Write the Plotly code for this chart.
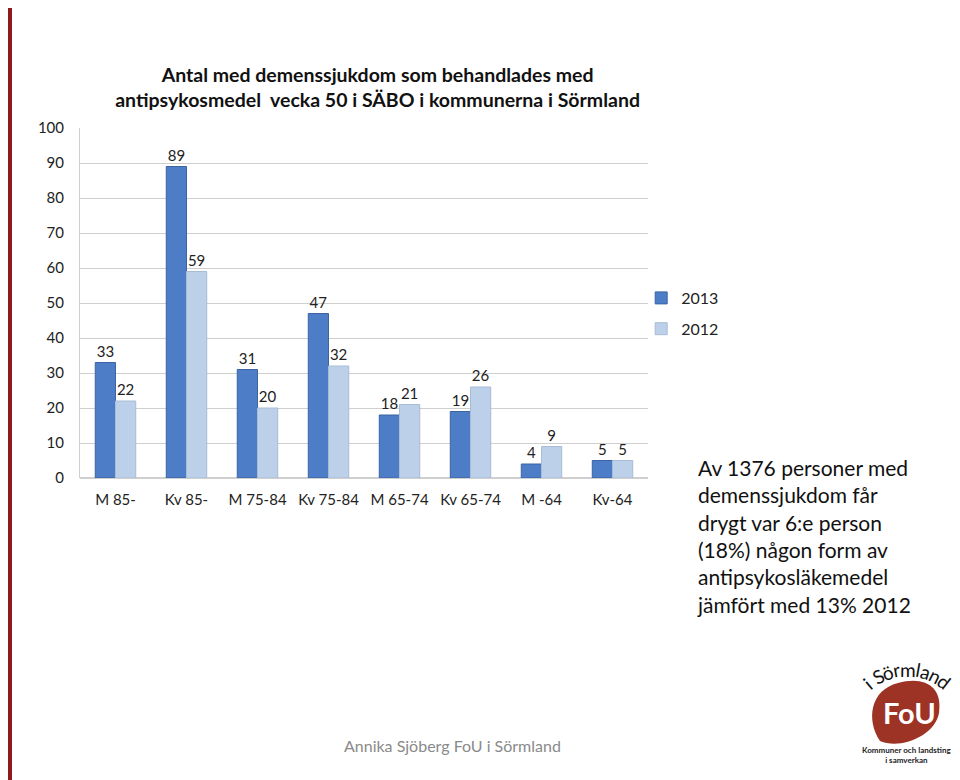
import math
import plotly.graph_objects as go

categories = ["M 85-", "Kv 85-", "M 75-84", "Kv 75-84", "M 65-74", "Kv 65-74", "M -64", "Kv-64"]
values_2013 = [33, 89, 31, 47, 18, 19, 4, 5]
values_2012 = [22, 59, 20, 32, 21, 26, 9, 5]
y_ticks = [0, 10, 20, 30, 40, 50, 60, 70, 80, 90, 100]

FONT = "Lato"

fig = go.Figure()
fig.add_trace(go.Bar(
    x=categories, y=values_2013, name="2013", legendgroup="a",
    marker=dict(color="#4C7DC6", line=dict(color="#3A64A3", width=1)),
    text=[str(v) for v in values_2013], textposition="outside",
    textfont=dict(family=FONT, size=15, color="#222"), cliponaxis=False,
))
fig.add_trace(go.Bar(
    x=categories, y=values_2012, name="2012", legendgroup="b",
    marker=dict(color="#BCD0EA", line=dict(color="#A9BCD6", width=1)),
    text=[str(v) for v in values_2012], textposition="outside",
    textfont=dict(family=FONT, size=15, color="#222"), cliponaxis=False,
))

fig.update_layout(
    width=960, height=780,
    margin=dict(l=72, r=320, t=120, b=310),
    paper_bgcolor="white", plot_bgcolor="white",
    barmode="group", bargap=0.43, bargroupgap=0,
    font=dict(family=FONT, color="#222"),
    showlegend=True,
    legend=dict(x=0.988, y=0.47, xanchor="left", yanchor="middle",
                font=dict(family=FONT, size=16, color="#222"),
                itemwidth=30, tracegroupgap=7, bgcolor="rgba(0,0,0,0)"),
    title=dict(text="<b>Antal med demenssjukdom som behandlades med<br>antipsykosmedel  vecka 50 i SÄBO i kommunerna i Sörmland</b>",
               x=0.385, xanchor="center", y=0.905, yanchor="middle",
               font=dict(family=FONT, size=19.5, color="#111")),
)
fig.update_xaxes(showgrid=False, showline=False, ticks="", ticklabelstandoff=11,
                 tickfont=dict(family=FONT, size=15, color="#222"))
fig.update_yaxes(range=[0, 100], tickvals=y_ticks, showgrid=True, gridcolor="#CFCFCF",
                 gridwidth=1, zeroline=True, zerolinecolor="#CFCFCF", showline=True,
                 linecolor="#CFCFCF", ticks="", ticklabelstandoff=12,
                 tickfont=dict(family=FONT, size=15, color="#222"))


def px(x):
    return (x - 80) / 568


def py(y):
    return (478 - y) / 350


# red left border of the slide
fig.add_shape(type="rect", xref="paper", yref="paper", x0=px(8), x1=px(12), y0=py(790), y1=py(0),
              fillcolor="#8E1B1B", line_width=0, layer="below")

# right text block
fig.add_annotation(xref="paper", yref="paper", x=px(695), y=py(453), xanchor="left", yanchor="top",
                   align="left", showarrow=False,
                   text="Av 1376 personer med<br>demenssjukdom får<br>drygt var 6:e person<br>(18%) någon form av<br>antipsykosläkemedel<br>jämfört med 13% 2012",
                   font=dict(family=FONT, size=21, color="#111"))

# footer
fig.add_annotation(xref="paper", yref="paper", x=px(452), y=py(745), xanchor="center", yanchor="middle",
                   showarrow=False, text="Annika Sjöberg FoU i Sörmland",
                   font=dict(family=FONT, size=16, color="#8A8A8A"))

# logo approximation: red blob with FoU
fig.add_shape(type="path", xref="paper", yref="paper",
              path=f"M {px(880)} {py(741)} C {px(866)} {py(720)}, {px(870)} {py(690)}, {px(898)} {py(683)} "
                   f"C {px(924)} {py(676)}, {px(943)} {py(686)}, {px(939)} {py(713)} "
                   f"C {px(935)} {py(736)}, {px(900)} {py(750)}, {px(880)} {py(741)} Z",
              fillcolor="#9C3324", line_width=0, layer="below")
fig.add_annotation(xref="paper", yref="paper", x=px(909), y=py(713), xanchor="center", yanchor="middle",
                   showarrow=False, text="<b>FoU</b>", font=dict(family=FONT, size=29, color="white"))

# arched "i Sörmland"
logo_letters = ["i", "S", "ö", "r", "m", "l", "a", "n", "d"]
logo_offsets = [2.5, 15, 25.5, 34.5, 46, 56.5, 64, 74.5, 85.5]
cx, cy, rad = 907, 731, 62
for ch, s in zip(logo_letters, logo_offsets):
    ang = -42 + math.degrees(s / rad)
    lx = cx + rad * math.sin(math.radians(ang))
    ly = cy - rad * math.cos(math.radians(ang))
    fig.add_annotation(xref="paper", yref="paper", x=px(lx), y=py(ly), xanchor="center", yanchor="middle",
                       showarrow=False, textangle=ang, text=ch,
                       font=dict(family=FONT, size=19, color="#111"))

fig.add_annotation(xref="paper", yref="paper", x=px(906), y=py(755), xanchor="center", yanchor="middle",
                   showarrow=False, text="<b>Kommuner och landsting<br>i samverkan</b>",
                   font=dict(family=FONT, size=8, color="#222"))

fig.write_html("out.html")
